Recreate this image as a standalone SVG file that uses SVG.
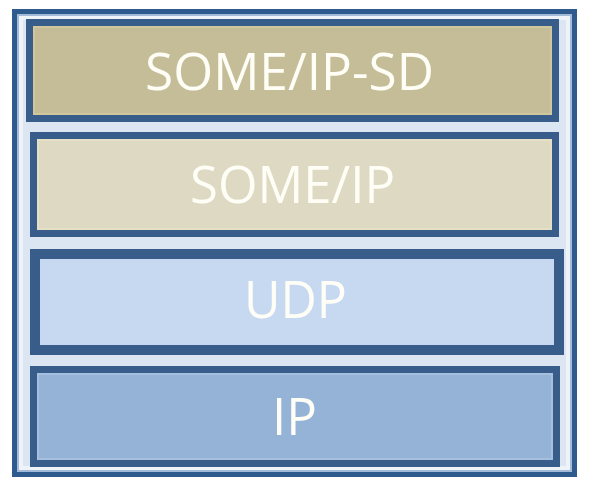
<svg xmlns="http://www.w3.org/2000/svg" width="596" height="486" viewBox="0 0 596 486">
  <style>
    .lbl { font-family: "Open Sans", "Liberation Sans", Arial, sans-serif; font-size: 52px; fill: #fffef6; }
    .box { stroke: #385d8a; stroke-width: 7; }
    .inner { fill: none; stroke-opacity: 0.35; stroke-width: 2; }
  </style>
  <rect width="596" height="486" fill="#ffffff"/>
  <g id="frame">
    <rect x="14.5" y="11.5" width="560" height="463" fill="#dce6f2" stroke="#2e5a8e" stroke-width="5"/>
    <rect x="18" y="15" width="553" height="456" fill="none" stroke="#a3bad8" stroke-width="2"/>
    <rect x="21" y="18" width="547" height="450" fill="none" stroke="#eef3fa" stroke-width="4"/>
  </g>
  <g id="connectors"/>
  <g id="some-ip-sd">
    <rect class="box" x="29.5" y="22.5" width="526" height="96" fill="#c4bd97"/>
    <rect class="inner" x="34" y="27" width="517" height="87" stroke="#e8dba8"/>
    <text class="lbl" x="145" y="90" textLength="289" lengthAdjust="spacingAndGlyphs">SOME/IP-SD</text>
  </g>
  <g id="some-ip">
    <rect class="box" x="33.5" y="135.5" width="522" height="98" fill="#ddd9c3"/>
    <rect class="inner" x="38" y="140" width="513" height="89" stroke="#f4ecc8"/>
    <text class="lbl" x="190" y="203" textLength="205" lengthAdjust="spacingAndGlyphs">SOME/IP</text>
  </g>
  <g id="udp">
    <rect x="35" y="254" width="524" height="96" fill="#c6d9f1" stroke="#385d8a" stroke-width="10"/>
    <rect x="30" y="249" width="6" height="106" fill="#385d8a"/>
    <text class="lbl" x="244" y="318" textLength="103" lengthAdjust="spacingAndGlyphs">UDP</text>
  </g>
  <g id="ip">
    <rect class="box" x="33.5" y="369.5" width="523" height="94" fill="#95b3d7"/>
    <rect class="inner" x="38" y="374" width="514" height="85" stroke="#c7d8ee"/>
    <text class="lbl" x="272" y="435" textLength="45" lengthAdjust="spacingAndGlyphs">IP</text>
  </g>
</svg>
